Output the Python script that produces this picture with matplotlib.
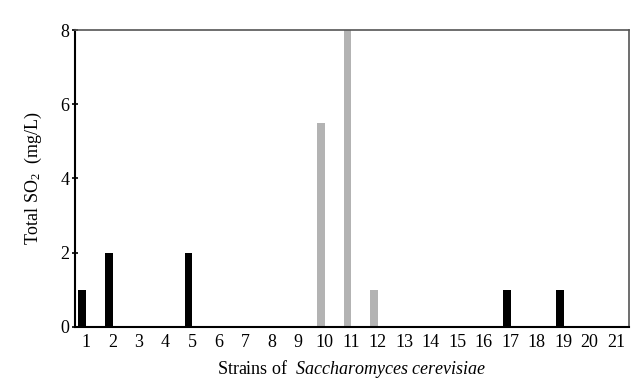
import numpy as np
import matplotlib.pyplot as plt

plt.rcParams['font.family'] = ['Liberation Serif', 'DejaVu Serif']
plt.rcParams['mathtext.fontset'] = 'custom'
plt.rcParams['mathtext.rm'] = 'Liberation Serif'
plt.rcParams['mathtext.it'] = 'Liberation Serif:italic'

# strains 1..21 and total SO2 values (mg/L)
strains = np.arange(1, 22)
so2_black = [1, 2, 0, 0, 2, 0, 0, 0, 0, 0, 0, 0, 0, 0, 0, 0, 1, 0, 1, 0, 0]
so2_grey = [0, 0, 0, 0, 0, 0, 0, 0, 0, 5.5, 8, 1, 0, 0, 0, 0, 0, 0, 0, 0, 0]

fig, ax = plt.subplots(figsize=(6.4, 3.9), dpi=100)
fig.subplots_adjust(left=0.117, right=0.983, top=0.923, bottom=0.162)

pos = strains - 0.13
ax.bar(pos, so2_black, width=0.3, color='black')
ax.bar(pos, so2_grey, width=0.28, color='#b3b3b3')

ax.set_xlim(0.585, 21.49)
ax.set_ylim(0, 8)
ax.set_yticks([0, 2, 4, 6, 8])
ax.set_xticks(strains)
ax.set_xticklabels([str(s) for s in strains])
ax.tick_params(axis='x', length=0, labelsize=13, pad=5)
ax.tick_params(axis='y', length=4, width=1.2, direction='inout', labelsize=13, pad=2)

for s in ['left', 'bottom']:
    ax.spines[s].set_linewidth(1.5)
    ax.spines[s].set_color('black')
for s in ['top', 'right']:
    ax.spines[s].set_linewidth(1.2)
    ax.spines[s].set_color('#555555')

ax.set_ylabel(r'Total SO$_2$  (mg/L)', fontsize=13, labelpad=12)
ax.set_xlabel(r'Strains of  $\it{Saccharomyces\ cerevisiae}$', fontsize=13, labelpad=5)

fig.savefig('out.png')
